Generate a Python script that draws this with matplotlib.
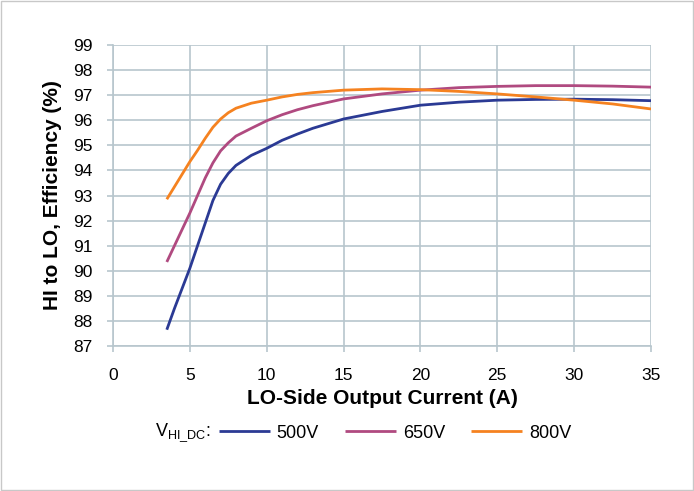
import numpy as np
import matplotlib
matplotlib.use("Agg")
import matplotlib.pyplot as plt
from matplotlib.patches import Rectangle

plt.rcParams['font.family'] = ['Liberation Sans', 'DejaVu Sans']

# Values
current_500 = [3.5, 4, 4.5, 5, 5.5, 6, 6.5, 7, 7.5, 8, 9, 10, 11, 12, 13, 15, 17.5, 20, 22.5, 25, 27.5, 30, 32.5, 35]
eff_500 = [87.65, 88.5, 89.3, 90.1, 91.0, 91.9, 92.8, 93.45, 93.88, 94.2, 94.6, 94.88, 95.2, 95.45, 95.68, 96.05,
           96.35, 96.6, 96.72, 96.8, 96.83, 96.84, 96.82, 96.78]

current_650 = [3.5, 4, 4.5, 5, 5.5, 6, 6.5, 7, 7.5, 8, 9, 10, 11, 12, 13, 15, 17.5, 20, 22.5, 25, 27.5, 30, 32.5, 35]
eff_650 = [90.35, 91.0, 91.65, 92.3, 93.0, 93.7, 94.3, 94.78, 95.1, 95.37, 95.68, 95.98, 96.22, 96.42, 96.58, 96.85,
           97.05, 97.2, 97.3, 97.35, 97.38, 97.38, 97.36, 97.32]

current_800 = [3.5, 4, 4.5, 5, 5.5, 6, 6.5, 7, 7.5, 8, 9, 10, 11, 12, 13, 15, 17.5, 20, 22.5, 25, 27.5, 30, 32.5, 35]
eff_800 = [92.85, 93.35, 93.85, 94.35, 94.8, 95.28, 95.72, 96.05, 96.3, 96.48, 96.68, 96.8, 96.93, 97.03, 97.1,
           97.2, 97.25, 97.22, 97.15, 97.05, 96.93, 96.8, 96.65, 96.45]

x_ticks = [0, 5, 10, 15, 20, 25, 30, 35]
y_ticks = list(range(87, 100))

grid_col = '#b7c6cd'
W, H = 694, 491

fig = plt.figure(figsize=(6.94, 4.91), dpi=100)
ax = fig.add_axes([113 / W, 1 - 346 / H, (651 - 113) / W, (346 - 45) / H])

ax.plot(current_500, eff_500, color='#2b3a94', lw=2, label='500V', solid_capstyle='butt')
ax.plot(current_650, eff_650, color='#b04a80', lw=2, label='650V', solid_capstyle='butt')
ax.plot(current_800, eff_800, color='#f58220', lw=2, label='800V', solid_capstyle='butt')

ax.set_xlim(0, 35)
ax.set_ylim(87, 99)
ax.set_xticks(x_ticks)
ax.set_yticks(y_ticks)
ax.grid(True, color=grid_col, lw=1.2)
ax.set_axisbelow(True)
for s in ['top', 'right']:
    ax.spines[s].set_visible(False)
for s in ['left', 'bottom']:
    ax.spines[s].set_color(grid_col)
    ax.spines[s].set_linewidth(1.2)
ax.tick_params(direction='out', length=4, color=grid_col, width=1.2, labelsize=12.5)
ax.tick_params(axis='x', pad=12)
ax.tick_params(axis='y', pad=11)

ax.set_xlabel('LO-Side Output Current (A)', fontsize=15, fontweight='bold', labelpad=4)
ax.set_ylabel('HI to LO, Efficiency (%)', fontsize=15, fontweight='bold', labelpad=8)

fig.text(155 / W, 1 - 433 / H, r'V$_{\mathregular{HI\_DC}}$:', fontsize=13, ha='left', va='center')
fig.legend(loc='center left', bbox_to_anchor=(219 / W, 1 - 433 / H), ncol=3, frameon=False, fontsize=13,
           handlelength=2.8, columnspacing=1.45, handletextpad=0.4, borderpad=0, borderaxespad=0)

fig.patches.append(Rectangle((0.002, 0.002), 0.996, 0.996, transform=fig.transFigure,
                             fill=False, edgecolor='#c8c8c8', lw=1))

fig.savefig('out.png', dpi=100)
